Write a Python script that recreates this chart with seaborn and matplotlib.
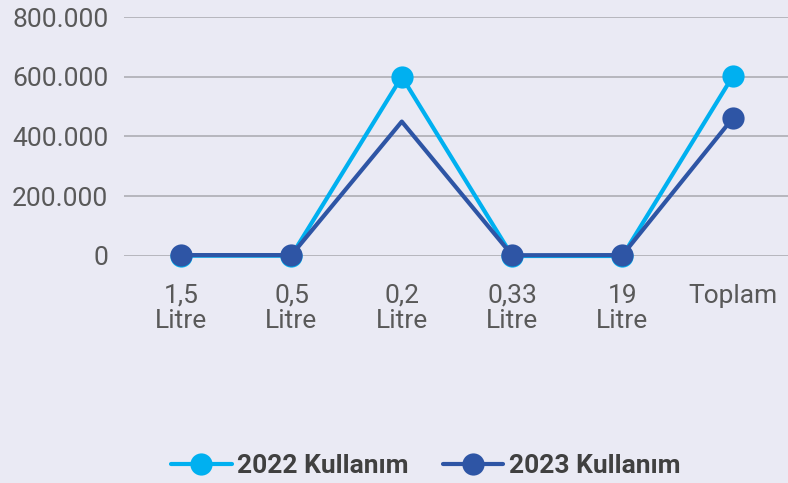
import pandas as pd
import matplotlib.pyplot as plt
import seaborn as sns

# categories and values
categories = ["1,5\nLitre", "0,5\nLitre", "0,2\nLitre", "0,33\nLitre", "19\nLitre", "Toplam"]
usage_2022 = [1000, 1000, 600000, 0, 0, 602000]
usage_2023 = [3000, 3000, 450000, 2500, 3000, 461500]
series_names = ["2022 Kullanım", "2023 Kullanım"]
yticks = [0, 200000, 400000, 600000, 800000]
ytick_labels = ["0", "200.000", "400.000", "600.000", "800.000"]

colors = {"2022 Kullanım": "#00B0F0", "2023 Kullanım": "#2E55A5"}
bg = "#EAEAF4"

df = pd.DataFrame({
    "kategori": categories * 2,
    "deger": usage_2022 + usage_2023,
    "seri": [series_names[0]] * len(categories) + [series_names[1]] * len(categories),
})

sns.set_theme(style="white")
plt.rcParams['font.family'] = ['Roboto', 'DejaVu Sans']

fig = plt.figure(figsize=(7.88, 4.83), dpi=100, facecolor=bg)
ax = fig.add_axes([0.157, 0.470, 0.843, 0.4948])
ax.set_facecolor(bg)

sns.lineplot(data=df, x="kategori", y="deger", hue="seri", palette=colors,
             sort=False, marker="o", markersize=16, linewidth=3,
             markeredgewidth=0, legend=False, ax=ax)

for line in ax.lines:
    line.set_clip_on(False)
# the 2023 series has no marker drawn at the 0,2 point in the reference
ax.lines[1].set_markevery([0, 1, 3, 4, 5])

ax.set_ylim(0, 800000)
ax.set_xlim(-0.52, 5.5)
ax.set_yticks(yticks)
ax.set_yticklabels(ytick_labels)
ax.yaxis.grid(True, color="#A8A8AE", linewidth=1.1)
ax.set_axisbelow(True)
for s in ax.spines.values():
    s.set_visible(False)
ax.set_xlabel("")
ax.set_ylabel("")
ax.tick_params(axis="both", length=0, labelsize=19, labelcolor="#595959")
ax.tick_params(axis="y", pad=11)
ax.tick_params(axis="x", pad=20)
for t in ax.get_xticklabels():
    t.set_linespacing(1.08)

handles = ax.lines[:2]
leg = fig.legend(handles, series_names, loc="center", bbox_to_anchor=(0.54, 0.035),
                 ncol=2, frameon=False, handlelength=2.3, columnspacing=1.3,
                 handletextpad=0.2, numpoints=1, prop={"weight": "bold", "size": 19})
for t in leg.get_texts():
    t.set_color("#404040")
for h in leg.legend_handles:
    h.set_markevery([1])

fig.savefig("out.png", dpi=100, facecolor=bg)
